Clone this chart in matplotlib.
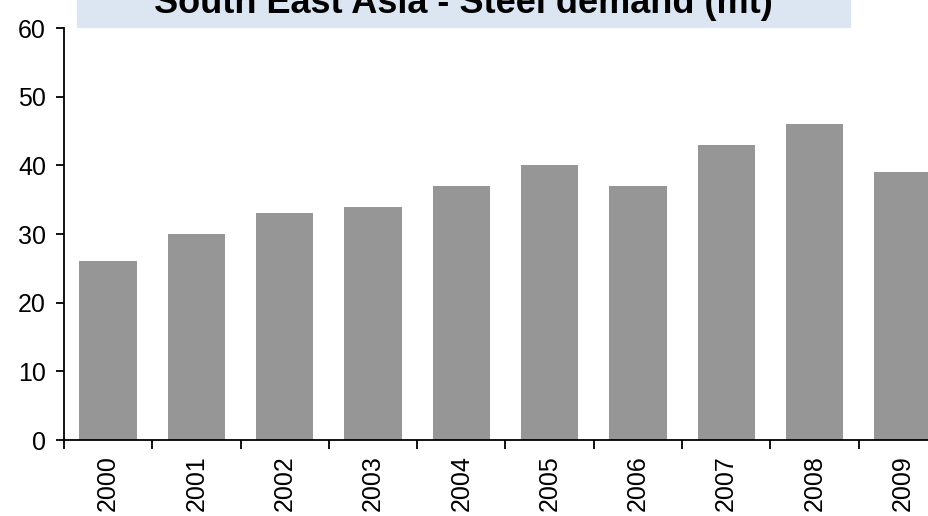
import numpy as np
import matplotlib.pyplot as plt
from matplotlib.patches import Rectangle

years = ["2000", "2001", "2002", "2003", "2004", "2005", "2006", "2007", "2008", "2009"]
demand = [26, 30, 33, 34, 37, 40, 37, 43, 46, 39]
y_ticks = [0, 10, 20, 30, 40, 50, 60]

plt.rcParams["font.family"] = ["Liberation Sans", "DejaVu Sans"]

fig = plt.figure(figsize=(9.29, 5.16), dpi=100)
ax = fig.add_axes([64 / 929, 1 - 440 / 516, (947 - 64) / 929, 412 / 516])

x = np.arange(len(years))
ax.bar(x, demand, width=0.65, color="#969696", zorder=2)

ax.set_xlim(-0.5, len(years) - 0.5)
ax.set_ylim(0, 60)
ax.set_yticks(y_ticks)
ax.tick_params(axis="y", labelsize=18, length=6, width=1.3, direction="out", pad=7)

ax.set_xticks(np.arange(len(years) + 1) - 0.5)
ax.set_xticklabels([])
ax.set_xticks(x, minor=True)
ax.set_xticklabels(years, minor=True, rotation=90, fontsize=18)
ax.tick_params(axis="x", which="major", length=6.5, width=1.3, direction="out")
ax.tick_params(axis="x", which="minor", length=0, pad=11)

for side in ["top", "right"]:
    ax.spines[side].set_visible(False)
for side in ["left", "bottom"]:
    ax.spines[side].set_linewidth(1.3)

# title box, clipped at the top edge as in the original
fig.patches.append(Rectangle((77 / 929, 1 - 27 / 516), 773 / 929, 0.1,
                             transform=fig.transFigure, color="#DCE6F2", zorder=0))
fig.text(463 / 929, 1 - 13 / 516, "South East Asia - Steel demand (mt)",
         ha="center", va="baseline", fontsize=26, fontweight="bold")

fig.savefig("out.png", dpi=100)
